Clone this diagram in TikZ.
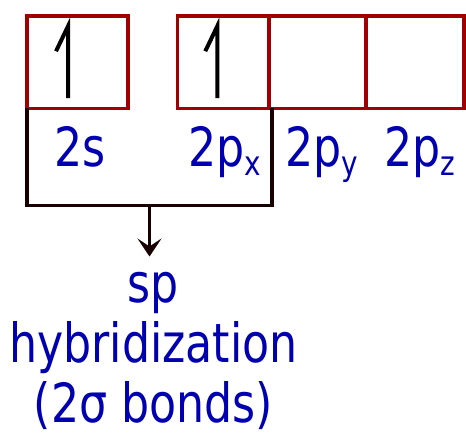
\documentclass[tikz,border=0pt]{standalone}
\usepackage{fontspec}
\newfontfamily\pixfont[FakeStretch=0.82]{DejaVu Sans}
\usetikzlibrary{positioning, arrows.meta, calc}
\definecolor{boxred}{RGB}{160,0,0}
\definecolor{textblue}{RGB}{0,0,176}
\definecolor{linedark}{RGB}{24,0,0}
\newcommand{\orbsub}[1]{\raisebox{-9pt}{\fontsize{34}{34}\selectfont #1}}

\begin{document}
\begin{tikzpicture}[
    x=1pt, y=-1pt,
    orbital/.style={
        draw=boxred,
        line width=3.5pt,
        minimum width=96pt,
        minimum height=92.5pt,
        inner sep=0pt,
        outer sep=0pt
    },
    orblabel/.style={
        text=textblue,
        font=\pixfont\fontsize{54}{60}\selectfont,
        anchor=base,
        inner sep=0pt
    },
    spin/.style={
        line width=4pt,
        line cap=butt,
        line join=miter
    },
    bracket/.style={
        draw=linedark,
        line width=3.5pt
    },
    arrow/.style={
        -{Stealth[length=18pt,width=24pt,inset=8pt]},
        draw=linedark,
        line width=3pt
    }
]
\useasboundingbox (0,0) rectangle (466,433);

% Orbital boxes
\node[orbital, minimum width=101pt] (s) at (77.5,62.25) {};
\node[orbital, minimum width=91.5pt, right=49.5pt of s] (px) {};
\node[orbital, minimum width=97pt, right=0pt of px] (py) {};
\node[orbital, minimum width=98pt, right=0pt of py] (pz) {};

% Electrons
\draw[spin] ($(s.center)+(-9.5,36)$) -- ++(0,-72) -- ++(-12,25);
\draw[spin] ($(px.center)+(-6,36)$) -- ++(0,-72) -- ++(-12,25);

% Labels
\node[orblabel] (l2s) at (80,167) {2s};
\node[orblabel] (l2px) at (225,167) {2p\orbsub{x}};
\node[orblabel] (l2py) at (322,167) {2p\orbsub{y}};
\node[orblabel] (l2pz) at (420,167) {2p\orbsub{z}};

% Bracket
\draw[bracket] (s.south west) -- ++(0,97) -| ($(px.south east)+(3,0)$);
\coordinate (join) at ($(s.south west)!0.5!(px.south east)+(1.5,97)$);

% Result
\node[orblabel, align=center, below=67pt of join, xshift=4pt] (hybrid) {sp\\hybridization\\(2σ bonds)};
\draw[arrow, shorten >=16pt] (join) -- (join |- hybrid.north);

\end{tikzpicture}
\end{document}
